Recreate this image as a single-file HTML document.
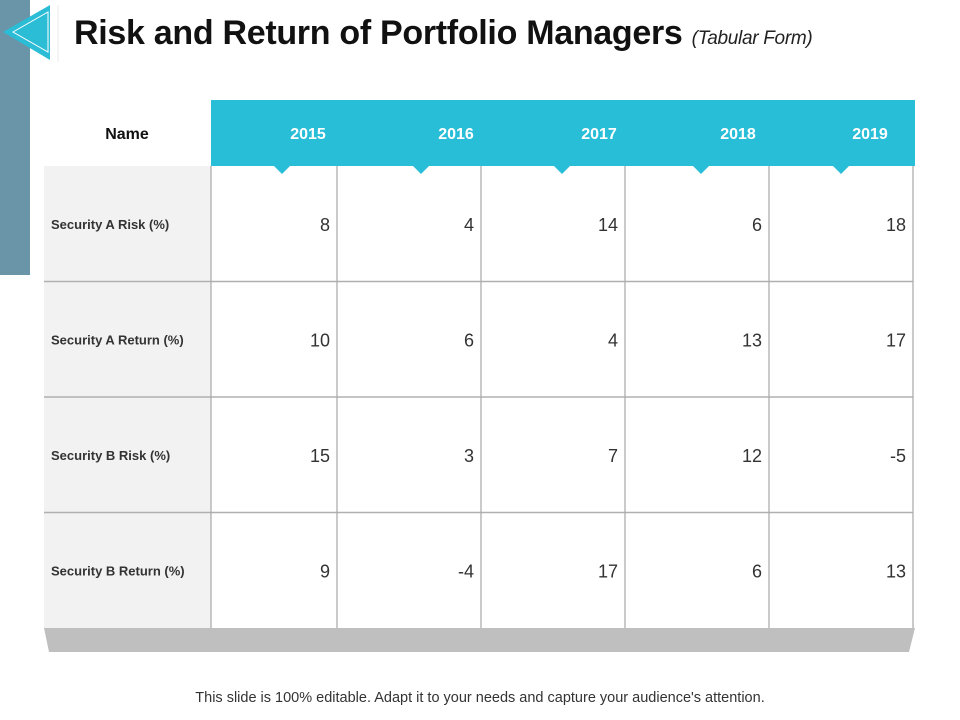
<!DOCTYPE html>
<html><head><meta charset="utf-8"><style>
body{margin:0;width:960px;height:720px;background:#fff;position:relative;overflow:hidden;font-family:"Liberation Sans",sans-serif}
.a{position:absolute}
</style></head><body>
<div class="a" style="left:0;top:0;width:30px;height:275px;background:#6a95a8"></div>
<svg class="a" style="left:0;top:0" width="62" height="64"><polygon points="3,32 50,5 50,60" fill="#2bbcd6"/><polygon points="13,32 48,12 48,52" fill="none" stroke="#fff" stroke-width="1"/><line x1="58" y1="5" x2="58" y2="62" stroke="#e8e8e8"/></svg>
<div class="a" style="left:74px;top:14px;font-size:34px;font-weight:bold;color:#111;white-space:nowrap;letter-spacing:-0.3px">Risk and Return of Portfolio Managers <span style="font-size:19px;font-weight:normal;font-style:italic;color:#222">(Tabular Form)</span></div>
<svg id="t" class="a" style="left:0;top:0" width="960" height="720"></svg>
<div class="a" style="left:0;width:960px;top:690px;text-align:center;font-size:14.5px;color:#333">This slide is 100% editable. Adapt it to your needs and capture your audience's attention.</div>
<script>
const years=["2015","2016","2017","2018","2019"];
const rowNames=["Security A Risk (%)","Security A Return (%)","Security B Risk (%)","Security B Return (%)"];
const riskA=[8,4,14,6,18];
const returnA=[10,6,4,13,17];
const riskB=[15,3,7,12,-5];
const returnB=[9,-4,17,6,13];
const rows=[riskA,returnA,riskB,returnB];
const NS="http://www.w3.org/2000/svg",s=document.getElementById('t');
function el(tag,at,txt){const e=document.createElementNS(NS,tag);for(const k in at)e.setAttribute(k,at[k]);if(txt!=null)e.textContent=txt;s.appendChild(e);return e;}
const colX=[211,337,481,625,769,913],hdrTop=100,bodyTop=166,bodyBot=628,nameX=44;
const rh=(bodyBot-bodyTop)/rows.length;
let e=el('rect',{x:nameX,y:bodyTop,width:colX[0]-nameX,height:bodyBot-bodyTop,fill:'#f2f2f2'});

e=el('rect',{x:colX[0],y:hdrTop,width:915-colX[0],height:bodyTop-hdrTop,fill:'#29bed8'});

e=el('text',{x:127,y:139,'text-anchor':'middle','font-size':16,'font-weight':'bold',fill:'#111'},'Name');

const yrCx=[308,456,599,738,870],ptr=[282,421,562,701,841];
years.forEach((y,i)=>{
 let t=el('text',{x:yrCx[i],y:139,'text-anchor':'middle','font-size':16,'font-weight':'bold',fill:'#fff'},y);
 
 let p=el('polygon',{points:`${ptr[i]-8},166 ${ptr[i]+8},166 ${ptr[i]},174`,fill:'#29bed8'});
 
});
for(let r=1;r<rows.length;r++){let l=el('line',{x1:nameX,x2:913,y1:bodyTop+r*rh,y2:bodyTop+r*rh,stroke:'#b0b0b0','stroke-width':1.5});}
colX.forEach(x=>{let l=el('line',{x1:x,x2:x,y1:bodyTop,y2:bodyBot,stroke:'#a8a8a8','stroke-width':1.2});});
rows.forEach((vals,r)=>{
 const cy=bodyTop+r*rh+rh/2;
 let n=el('text',{x:51,y:cy+5,'font-size':13,'font-weight':'bold',fill:'#333'},rowNames[r]);
 
 vals.forEach((v,i)=>{let t=el('text',{x:colX[i+1]-7,y:cy+7,'text-anchor':'end','font-size':18,fill:'#333'},String(v));
 });
});
e=el('polygon',{points:'44,628 915,628 909,652 49,652',fill:'#bfbfbf'});

</script>
</body></html>
